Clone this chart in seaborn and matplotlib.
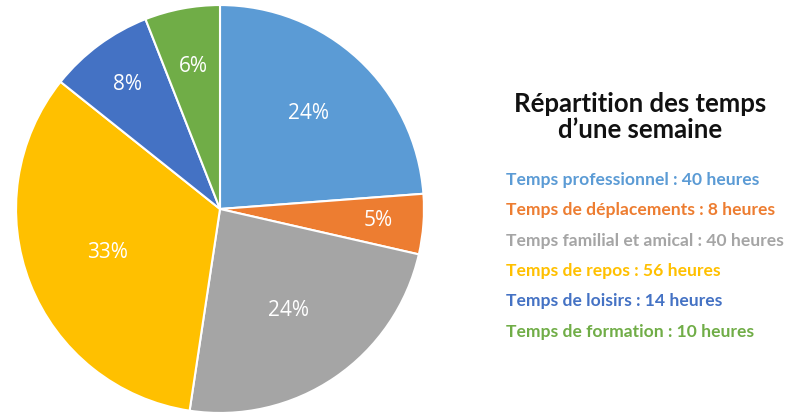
import matplotlib
matplotlib.use("Agg")
import matplotlib.pyplot as plt
import seaborn as sns
import numpy as np

categories = ["Temps professionnel", "Temps de déplacements", "Temps familial et amical",
              "Temps de repos", "Temps de loisirs", "Temps de formation"]
hours = [40, 8, 40, 56, 14, 10]
title_text = "Répartition des temps\nd\u2019une semaine"
colors = ["#5B9BD5", "#ED7D31", "#A5A5A5", "#FFC000", "#4472C4", "#70AD47"]
label_dist = [0.64, 0.78, 0.60, 0.59, 0.76, 0.71]

sns.set_theme(style="white")
plt.rcParams['font.family'] = ['Lato', 'DejaVu Sans']

fig = plt.figure(figsize=(8, 4.2), dpi=100)
fig.patch.set_facecolor("white")

ax = fig.add_axes([14/800, 5/420, 412/800, 412/420])
wedges, texts, autotexts = ax.pie(
    hours, colors=colors, startangle=90, counterclock=False,
    autopct=lambda p: f"{p:.0f}%", pctdistance=0.65,
    wedgeprops=dict(edgecolor="white", linewidth=1.5),
    textprops=dict(color="white", fontsize=15, family=['Open Sans', 'DejaVu Sans']))
for w, t, d in zip(wedges, autotexts, label_dist):
    ang = np.deg2rad((w.theta1 + w.theta2) / 2)
    t.set_position((d * np.cos(ang), d * np.sin(ang)))
ax.set_xlim(-1.01, 1.01)
ax.set_ylim(-1.01, 1.01)
ax.set_aspect("equal")
ax.axis("off")

fig.text(640/800, 1 - 117/420, title_text, ha="center", va="center",
         fontsize=18.5, fontweight="bold", color="#111111", linespacing=1.15)

ys = [180, 210, 241, 271, 301, 332]
for cat, h, c, y in zip(categories, hours, colors, ys):
    fig.text(506/800, 1 - y/420, f"{cat} : {h} heures", ha="left", va="center",
             fontsize=12.6, fontweight="bold", color=c)

fig.savefig("out.png", dpi=100, facecolor="white")
